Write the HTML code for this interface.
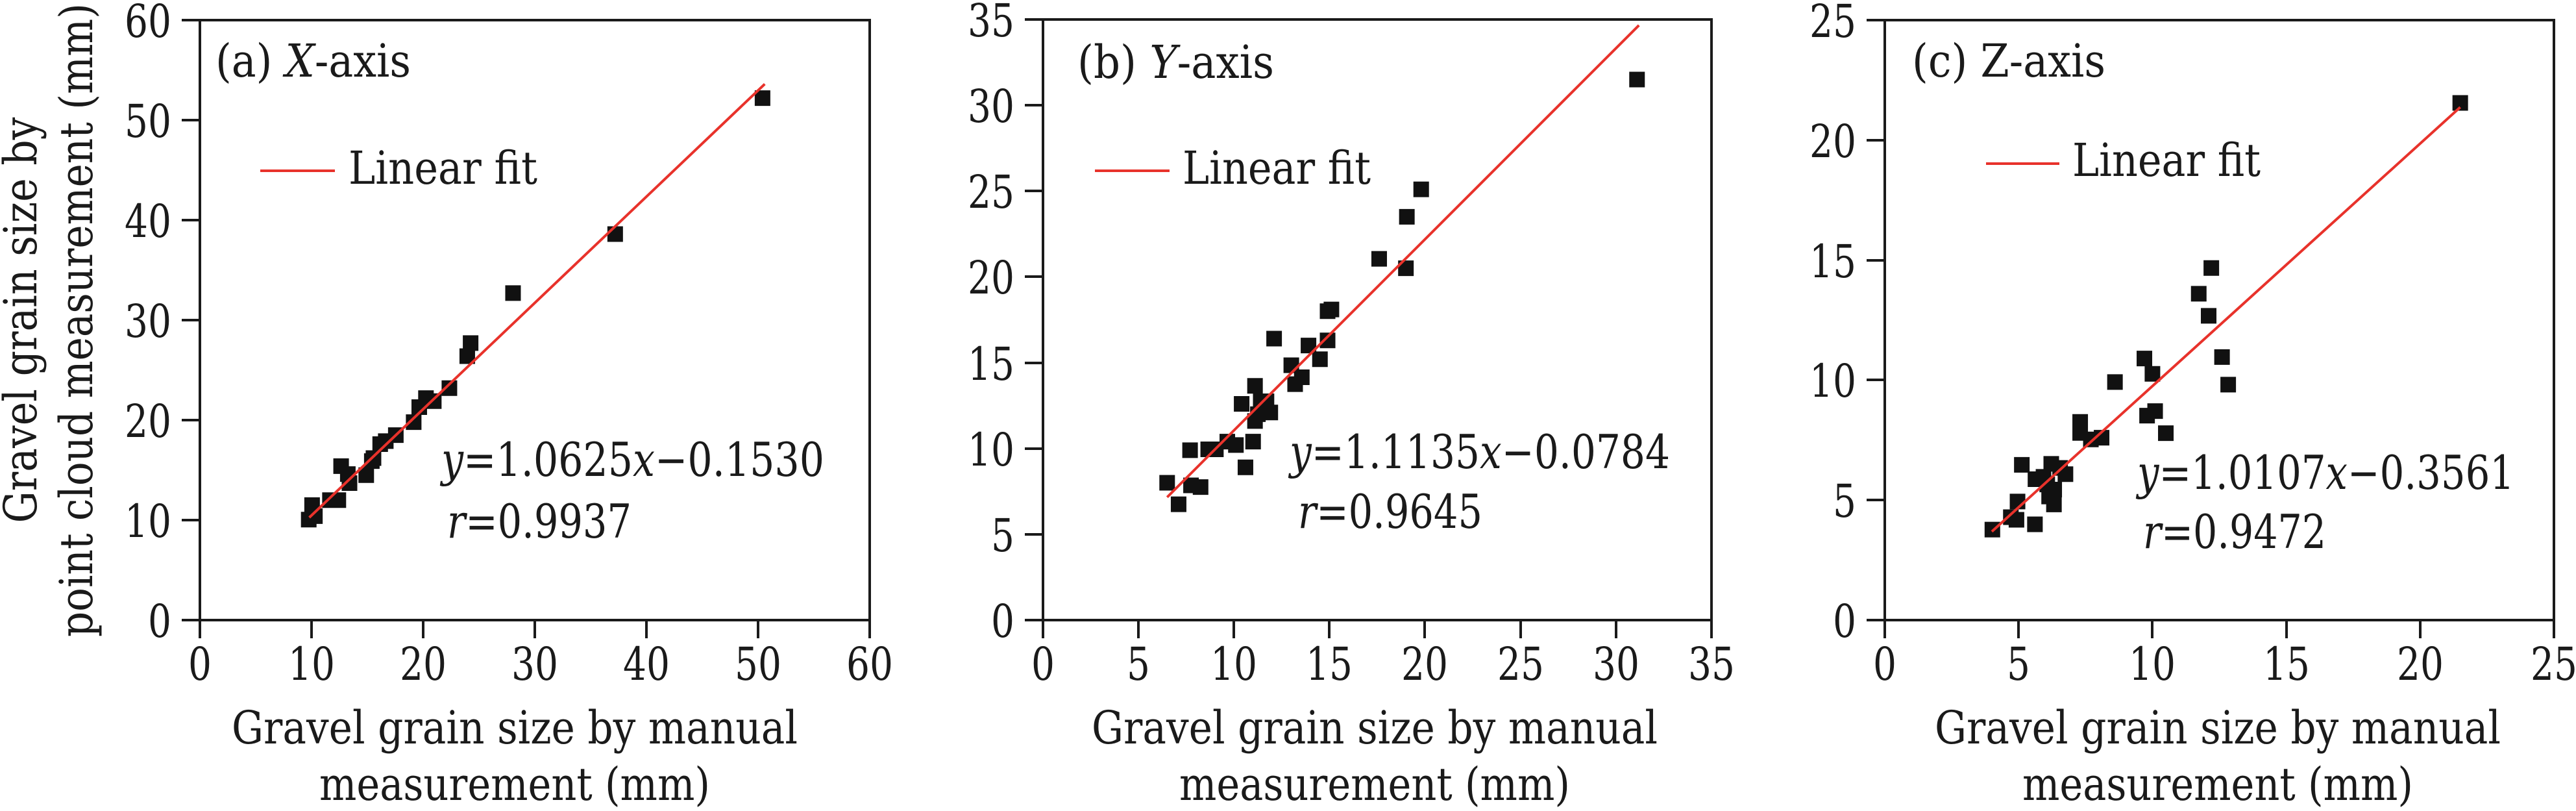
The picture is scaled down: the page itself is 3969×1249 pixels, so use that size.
<!DOCTYPE html>
<html><head><meta charset="utf-8"><style>
html,body{margin:0;padding:0;background:#fff;}
svg{display:block;}
svg text{font-family:"DejaVu Serif",serif;fill:#1a1a1a;}
.t{font-size:70px;}
.it{font-style:italic;}
</style></head><body>
<svg width="3969" height="1249" viewBox="0 0 3969 1249" xmlns="http://www.w3.org/2000/svg">
<g stroke="#1a1a1a" stroke-width="4" fill="none">
<rect x="308" y="31" width="1032" height="924"/>
<path d="M280 955H308M280 801H308M280 647H308M280 493H308M280 339H308M280 185H308M280 31H308"/>
<path d="M308 955V983M480 955V983M652 955V983M824 955V983M996 955V983M1168 955V983M1340 955V983"/>
<rect x="1607" y="30" width="1030" height="925"/>
<path d="M1579 955H1607M1579 823H1607M1579 691H1607M1579 559H1607M1579 426H1607M1579 294H1607M1579 162H1607M1579 30H1607"/>
<path d="M1607 955V983M1754 955V983M1901 955V983M2048 955V983M2195 955V983M2343 955V983M2490 955V983M2637 955V983"/>
<rect x="2904" y="31" width="1031" height="924"/>
<path d="M2876 955H2904M2876 770H2904M2876 585H2904M2876 401H2904M2876 216H2904M2876 31H2904"/>
<path d="M2904 955V983M3110 955V983M3316 955V983M3523 955V983M3729 955V983M3935 955V983"/>
</g>
<g class="t" text-anchor="end" lengthAdjust="spacingAndGlyphs">
<text x="264" y="981" textLength="36" lengthAdjust="spacingAndGlyphs">0</text><text x="264" y="827" textLength="72" lengthAdjust="spacingAndGlyphs">10</text><text x="264" y="673" textLength="72" lengthAdjust="spacingAndGlyphs">20</text><text x="264" y="519" textLength="72" lengthAdjust="spacingAndGlyphs">30</text><text x="264" y="365" textLength="72" lengthAdjust="spacingAndGlyphs">40</text><text x="264" y="211" textLength="72" lengthAdjust="spacingAndGlyphs">50</text><text x="264" y="57" textLength="72" lengthAdjust="spacingAndGlyphs">60</text>
<text x="1563" y="981" textLength="36" lengthAdjust="spacingAndGlyphs">0</text><text x="1563" y="849" textLength="36" lengthAdjust="spacingAndGlyphs">5</text><text x="1563" y="717" textLength="72" lengthAdjust="spacingAndGlyphs">10</text><text x="1563" y="585" textLength="72" lengthAdjust="spacingAndGlyphs">15</text><text x="1563" y="452" textLength="72" lengthAdjust="spacingAndGlyphs">20</text><text x="1563" y="320" textLength="72" lengthAdjust="spacingAndGlyphs">25</text><text x="1563" y="188" textLength="72" lengthAdjust="spacingAndGlyphs">30</text><text x="1563" y="56" textLength="72" lengthAdjust="spacingAndGlyphs">35</text>
<text x="2860" y="981" textLength="36" lengthAdjust="spacingAndGlyphs">0</text><text x="2860" y="796" textLength="36" lengthAdjust="spacingAndGlyphs">5</text><text x="2860" y="611" textLength="72" lengthAdjust="spacingAndGlyphs">10</text><text x="2860" y="427" textLength="72" lengthAdjust="spacingAndGlyphs">15</text><text x="2860" y="242" textLength="72" lengthAdjust="spacingAndGlyphs">20</text><text x="2860" y="57" textLength="72" lengthAdjust="spacingAndGlyphs">25</text>
</g>
<g class="t" text-anchor="middle">
<text x="308" y="1047" textLength="36" lengthAdjust="spacingAndGlyphs">0</text><text x="480" y="1047" textLength="72" lengthAdjust="spacingAndGlyphs">10</text><text x="652" y="1047" textLength="72" lengthAdjust="spacingAndGlyphs">20</text><text x="824" y="1047" textLength="72" lengthAdjust="spacingAndGlyphs">30</text><text x="996" y="1047" textLength="72" lengthAdjust="spacingAndGlyphs">40</text><text x="1168" y="1047" textLength="72" lengthAdjust="spacingAndGlyphs">50</text><text x="1340" y="1047" textLength="72" lengthAdjust="spacingAndGlyphs">60</text>
<text x="1607" y="1047" textLength="36" lengthAdjust="spacingAndGlyphs">0</text><text x="1754" y="1047" textLength="36" lengthAdjust="spacingAndGlyphs">5</text><text x="1901" y="1047" textLength="72" lengthAdjust="spacingAndGlyphs">10</text><text x="2048" y="1047" textLength="72" lengthAdjust="spacingAndGlyphs">15</text><text x="2195" y="1047" textLength="72" lengthAdjust="spacingAndGlyphs">20</text><text x="2343" y="1047" textLength="72" lengthAdjust="spacingAndGlyphs">25</text><text x="2490" y="1047" textLength="72" lengthAdjust="spacingAndGlyphs">30</text><text x="2637" y="1047" textLength="72" lengthAdjust="spacingAndGlyphs">35</text>
<text x="2904" y="1047" textLength="36" lengthAdjust="spacingAndGlyphs">0</text><text x="3110" y="1047" textLength="36" lengthAdjust="spacingAndGlyphs">5</text><text x="3316" y="1047" textLength="72" lengthAdjust="spacingAndGlyphs">10</text><text x="3523" y="1047" textLength="72" lengthAdjust="spacingAndGlyphs">15</text><text x="3729" y="1047" textLength="72" lengthAdjust="spacingAndGlyphs">20</text><text x="3935" y="1047" textLength="72" lengthAdjust="spacingAndGlyphs">25</text>
<text x="793" y="1145" textLength="872" lengthAdjust="spacingAndGlyphs">Gravel grain size by manual</text><text x="793" y="1232" textLength="602" lengthAdjust="spacingAndGlyphs">measurement (mm)</text>
<text x="2118" y="1145" textLength="872" lengthAdjust="spacingAndGlyphs">Gravel grain size by manual</text><text x="2118" y="1232" textLength="602" lengthAdjust="spacingAndGlyphs">measurement (mm)</text>
<text x="3417" y="1145" textLength="872" lengthAdjust="spacingAndGlyphs">Gravel grain size by manual</text><text x="3417" y="1232" textLength="602" lengthAdjust="spacingAndGlyphs">measurement (mm)</text>
<text transform="translate(56,493) rotate(-90)" textLength="625" lengthAdjust="spacingAndGlyphs">Gravel grain size by</text>
<text transform="translate(142,493) rotate(-90)" textLength="976" lengthAdjust="spacingAndGlyphs">point cloud measurement (mm)</text>
</g>
<g class="t">
<text x="332" y="118" textLength="301" lengthAdjust="spacingAndGlyphs">(a) <tspan class="it">X</tspan>-axis</text>
<text x="1660" y="120" textLength="303" lengthAdjust="spacingAndGlyphs">(b) <tspan class="it">Y</tspan>-axis</text>
<text x="2946" y="118" textLength="298" lengthAdjust="spacingAndGlyphs">(c) Z-axis</text>
<text x="537" y="283" textLength="291" lengthAdjust="spacingAndGlyphs">Linear fit</text>
<text x="1822" y="283" textLength="290" lengthAdjust="spacingAndGlyphs">Linear fit</text>
<text x="3193" y="271" textLength="290" lengthAdjust="spacingAndGlyphs">Linear fit</text>
</g>
<g stroke="#e8322b" stroke-width="4">
<line x1="401" y1="263" x2="516" y2="263"/>
<line x1="1687" y1="263" x2="1802" y2="263"/>
<line x1="3060" y1="252" x2="3173" y2="252"/>
</g>
<g style="font-size:72px">
<text x="680" y="733" textLength="590" lengthAdjust="spacingAndGlyphs"><tspan class="it">y</tspan>=1.0625<tspan class="it">x</tspan>−0.1530</text>
<text x="689" y="828" textLength="284" lengthAdjust="spacingAndGlyphs"><tspan class="it">r</tspan>=0.9937</text>
<text x="1987" y="721" textLength="586" lengthAdjust="spacingAndGlyphs"><tspan class="it">y</tspan>=1.1135<tspan class="it">x</tspan>−0.0784</text>
<text x="2000" y="813" textLength="284" lengthAdjust="spacingAndGlyphs"><tspan class="it">r</tspan>=0.9645</text>
<text x="3293" y="753" textLength="581" lengthAdjust="spacingAndGlyphs"><tspan class="it">y</tspan>=1.0107<tspan class="it">x</tspan>−0.3561</text>
<text x="3302" y="844" textLength="282" lengthAdjust="spacingAndGlyphs"><tspan class="it">r</tspan>=0.9472</text>
</g>
<g transform="translate(308,955) scale(17.2,-15.4)" fill="none">
<path vector-effect="non-scaling-stroke" stroke="#111" stroke-width="24" stroke-linecap="square" d="M50.4 52.2h0M37.2 38.6h0M28.05 32.7h0M24.25 27.7h0M23.95 26.4h0M22.35 23.2h0M20.95 21.9h0M20.25 22.2h0M19.65 21.3h0M19.15 19.8h0M17.55 18.5h0M16.65 17.9h0M16.15 17.6h0M15.55 16.2h0M15.4 15.9h0M14.9 14.5h0M13.4 13.7h0M13.25 14.6h0M12.65 15.4h0M12.4 12h0M11.65 12h0M10.05 11.5h0M10.3 10.4h0M9.75 10.05h0"/>
<line vector-effect="non-scaling-stroke" stroke="#e8322b" stroke-width="4" x1="9.8" y1="10.26" x2="50.6" y2="53.61"/>
</g>
<g transform="translate(1607,955) scale(29.43,-26.43)" fill="none">
<path vector-effect="non-scaling-stroke" stroke="#111" stroke-width="24" stroke-linecap="square" d="M31.1 31.5h0M19.8 25.1h0M19.05 23.5h0M17.6 21.05h0M19 20.5h0M14.9 18h0M15.1 18.1h0M12.1 16.4h0M14.9 16.3h0M13.9 16h0M14.5 15.2h0M13 14.85h0M13.55 14.15h0M13.2 13.75h0M11.1 13.65h0M10.4 12.6h0M11.4 12.75h0M11.7 12.75h0M11.9 12.1h0M11.25 12h0M11.1 11.6h0M11 10.4h0M10.1 10.2h0M9.65 10.4h0M9.05 9.95h0M8.65 9.95h0M7.7 9.9h0M10.6 8.9h0M6.5 8h0M7.75 7.85h0M8.25 7.75h0M7.1 6.75h0"/>
<line vector-effect="non-scaling-stroke" stroke="#e8322b" stroke-width="4" x1="6.5" y1="7.16" x2="31.2" y2="34.66"/>
</g>
<g transform="translate(2904,955) scale(41.24,-36.96)" fill="none">
<path vector-effect="non-scaling-stroke" stroke="#111" stroke-width="24" stroke-linecap="square" d="M21.5 21.55h0M12.2 14.67h0M11.73 13.6h0M12.1 12.68h0M12.6 10.96h0M12.83 9.81h0M9.7 10.9h0M10 10.26h0M8.6 9.92h0M10.1 8.71h0M9.8 8.52h0M10.5 7.79h0M7.3 8.26h0M7.3 7.8h0M7.7 7.53h0M8.1 7.6h0M6.75 6.08h0M6.55 6.34h0M6.22 6.51h0M5.12 6.47h0M5.93 5.97h0M5.63 5.87h0M6.07 5.65h0M6.33 5.44h0M6.14 5.15h0M6.32 4.82h0M4.96 4.94h0M4.71 4.29h0M4.92 4.18h0M5.61 3.99h0M4.02 3.77h0"/>
<line vector-effect="non-scaling-stroke" stroke="#e8322b" stroke-width="4" x1="4.0" y1="3.69" x2="21.5" y2="21.37"/>
</g>
</svg>
</body></html>
